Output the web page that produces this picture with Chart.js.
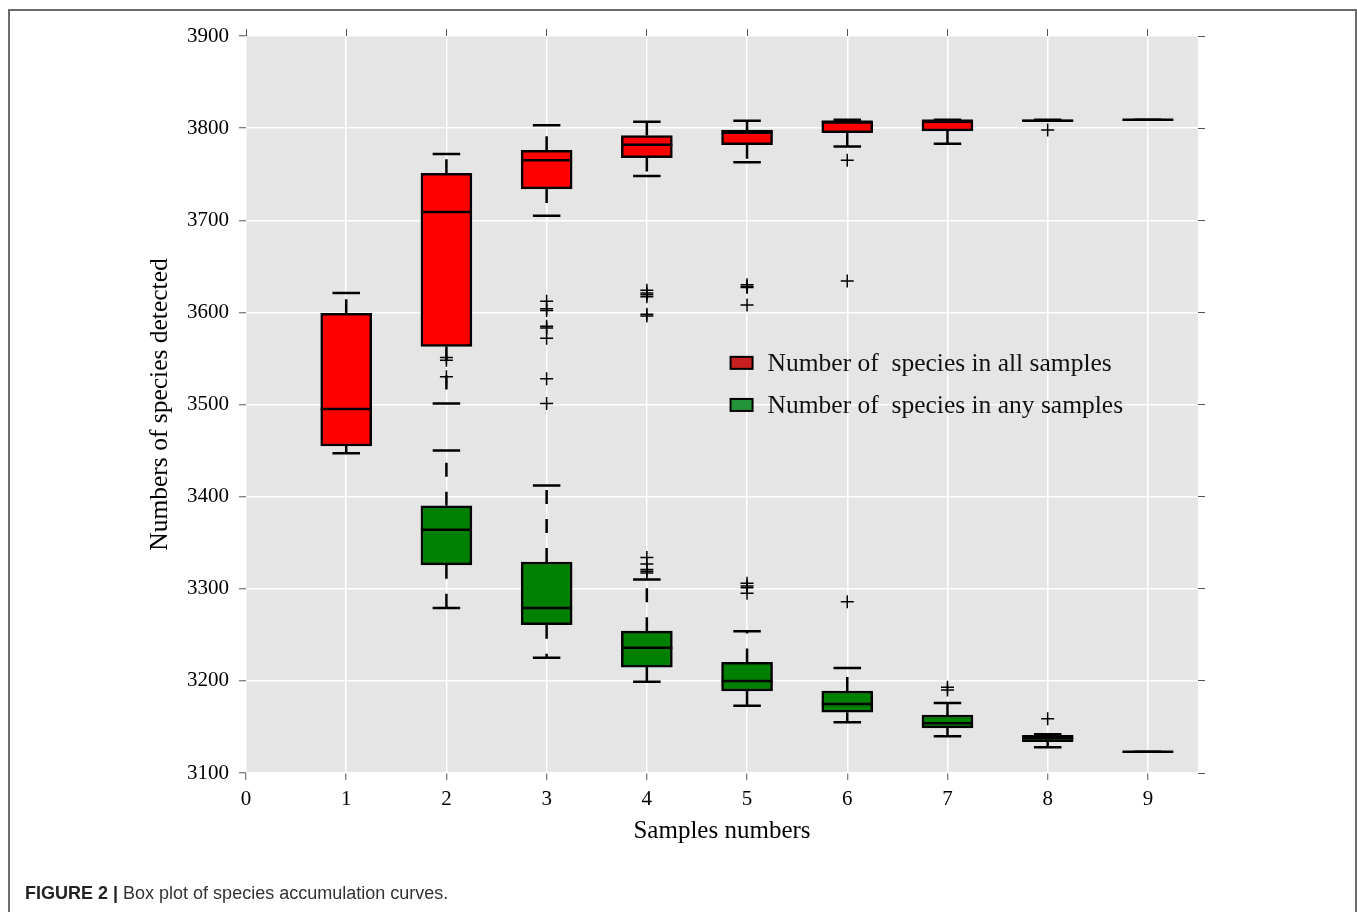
<!DOCTYPE html>
<html lang="en">
<head>
<meta charset="UTF-8">
<title>Box plot of species accumulation curves</title>
<script src="https://cdn.jsdelivr.net/npm/chart.js"></script>
<style>
  html, body { margin: 0; padding: 0; background: #fff; }
  body { width: 1357px; height: 912px; position: relative; overflow: hidden; }
  .frame { position: absolute; left: 8px; top: 9px; width: 1345px; height: 920px;
           border: 2px solid #6b6b6b; border-bottom: none; }
  #chart { position: absolute; left: 0; top: 0; }
  .caption { position: absolute; left: 25px; top: 884px; font-family: "Liberation Sans", Arial, sans-serif;
             font-size: 18px; line-height: 18px; color: #333; white-space: nowrap; }
  .caption b { color: #222; }
</style>
</head>
<body>
<div class="frame"></div>
<canvas id="chart" width="1357" height="912"></canvas>
<div class="caption"><b>FIGURE 2 |</b> Box plot of species accumulation curves.</div>

<script>
// number of samples on the x axis
const allSamples = [1, 2, 3, 4, 5, 6, 7, 8, 9];
const anySamples = [2, 3, 4, 5, 6, 7, 8, 9];
const xTicks = [0, 1, 2, 3, 4, 5, 6, 7, 8, 9];
const yTicks = [3100, 3200, 3300, 3400, 3500, 3600, 3700, 3800, 3900];

// species in all samples (red)
const allLow  = [3447, 3501, 3705, 3748, 3763, 3780, 3783, 3808, 3809];
const allQ1   = [3455, 3563, 3734, 3768, 3782, 3795, 3797, 3808, 3809];
const allMed  = [3495, 3709, 3765, 3782, 3795, 3807, 3808, 3808, 3809];
const allQ3   = [3599, 3751, 3776, 3792, 3798, 3807, 3808, 3809, 3809];
const allHigh = [3621, 3772, 3803, 3807, 3808, 3809, 3809, 3809, 3809];
const allFliers = [
  [],
  [3551, 3548, 3530],
  [3612, 3604, 3602, 3585, 3583, 3572, 3528, 3501],
  [3624, 3621, 3619, 3617, 3598, 3596],
  [3630, 3628, 3627, 3608],
  [3765, 3634],
  [],
  [3798],
  []
];

// species in any samples (green)
const anyLow  = [3279, 3225, 3199, 3173, 3155, 3140, 3128, 3123];
const anyQ1   = [3326, 3261, 3215, 3189, 3166, 3149, 3134, 3123];
const anyMed  = [3364, 3279, 3236, 3200, 3175, 3154, 3138, 3123];
const anyQ3   = [3390, 3329, 3254, 3220, 3189, 3163, 3141, 3123];
const anyHigh = [3450, 3412, 3310, 3254, 3214, 3176, 3142, 3123];
const anyFliers = [
  [],
  [],
  [3334, 3327, 3321, 3319, 3317],
  [3306, 3303, 3301, 3295],
  [3286],
  [3193, 3190],
  [3159],
  []
];

const allLabel = 'Number of  species in all samples';
const anyLabel = 'Number of  species in any samples';

const serif = '"Liberation Serif", "Times New Roman", serif';

function flierPoints(xs, fl) {
  const pts = [];
  xs.forEach((x, i) => fl[i].forEach(v => pts.push({ x: x, y: v })));
  return pts;
}

// gray panel, whiskers, caps, medians and the legend
const boxPlugin = {
  id: 'boxParts',
  beforeDraw(chart) {
    const { ctx, chartArea: a } = chart;
    ctx.save();
    ctx.fillStyle = '#e5e5e5';
    ctx.fillRect(a.left, a.top, a.right - a.left, a.bottom - a.top);
    ctx.restore();
  },
  beforeDatasetsDraw(chart) {
    const ctx = chart.ctx;
    const y = chart.scales.y;
    const sets = [
      [0, allLow, allQ1, allQ3, allHigh],
      [1, anyLow, anyQ1, anyQ3, anyHigh]
    ];
    ctx.save();
    ctx.strokeStyle = '#000';
    ctx.lineWidth = 2.5;
    ctx.lineCap = 'butt';
    sets.forEach(([idx, lo, q1, q3, hi]) => {
      chart.getDatasetMeta(idx).data.forEach((bar, i) => {
        const x = bar.x;
        const capHalf = bar.width * 0.27;
        // whiskers, dashed from the box outwards
        ctx.setLineDash([14, 15]);
        ctx.beginPath();
        ctx.moveTo(x, y.getPixelForValue(q3[i]));
        ctx.lineTo(x, y.getPixelForValue(hi[i]));
        ctx.moveTo(x, y.getPixelForValue(q1[i]));
        ctx.lineTo(x, y.getPixelForValue(lo[i]));
        ctx.stroke();
        // caps
        ctx.setLineDash([]);
        ctx.beginPath();
        [hi[i], lo[i]].forEach(v => {
          const py = y.getPixelForValue(v);
          ctx.moveTo(x - capHalf, py);
          ctx.lineTo(x + capHalf, py);
        });
        ctx.stroke();
      });
    });
    ctx.restore();
  },
  afterDatasetsDraw(chart) {
    const ctx = chart.ctx;
    const y = chart.scales.y;
    const a = chart.chartArea;
    ctx.save();
    ctx.strokeStyle = '#000';
    ctx.lineWidth = 2.5;
    [[0, allMed], [1, anyMed]].forEach(([idx, med]) => {
      chart.getDatasetMeta(idx).data.forEach((bar, i) => {
        const py = y.getPixelForValue(med[i]);
        ctx.beginPath();
        ctx.moveTo(bar.x - bar.width / 2, py);
        ctx.lineTo(bar.x + bar.width / 2, py);
        ctx.stroke();
      });
    });

    // legend inside the panel
    const lx = a.left + (a.right - a.left) * 0.509;
    const rows = [
      [allLabel, '#c8201f', a.top + (a.bottom - a.top) * 0.4435],
      [anyLabel, '#23943a', a.top + (a.bottom - a.top) * 0.5006]
    ];
    ctx.font = '25.5px ' + serif;
    ctx.textBaseline = 'middle';
    ctx.textAlign = 'left';
    ctx.lineWidth = 2;
    rows.forEach(([text, color, ry]) => {
      ctx.fillStyle = color;
      ctx.fillRect(lx, ry - 6, 22, 12);
      ctx.strokeRect(lx, ry - 6, 22, 12);
      ctx.fillStyle = '#111';
      ctx.fillText(text, lx + 37, ry + 1);
    });
    ctx.restore();
  }
};

const tickFont = { family: serif, size: 21 };
const plain = v => String(v);

new Chart(document.getElementById('chart'), {
  type: 'scatter',
  data: {
    datasets: [
      {
        type: 'bar', label: allLabel, xAxisID: 'x', yAxisID: 'y',
        data: allSamples.map((s, i) => ({ x: s, y: [allQ1[i], allQ3[i]] })),
        backgroundColor: '#ff0000', borderColor: '#000', borderWidth: 2.5,
        borderSkipped: false, barThickness: 51, grouped: false, order: 3
      },
      {
        type: 'bar', label: anyLabel, xAxisID: 'x', yAxisID: 'y',
        data: anySamples.map((s, i) => ({ x: s, y: [anyQ1[i], anyQ3[i]] })),
        backgroundColor: '#008000', borderColor: '#000', borderWidth: 2.5,
        borderSkipped: false, barThickness: 51, grouped: false, order: 3
      },
      {
        label: 'all fliers', xAxisID: 'x', yAxisID: 'y',
        data: flierPoints(allSamples, allFliers),
        pointStyle: 'cross', radius: 6.5, borderColor: '#000', borderWidth: 1.5, order: 1
      },
      {
        label: 'any fliers', xAxisID: 'x', yAxisID: 'y',
        data: flierPoints(anySamples, anyFliers),
        pointStyle: 'cross', radius: 6.5, borderColor: '#000', borderWidth: 1.5, order: 1
      }
    ]
  },
  options: {
    responsive: false,
    animation: false,
    events: [],
    layout: { padding: 0 },
    plugins: { legend: { display: false }, tooltip: { enabled: false } },
    scales: {
      x: {
        type: 'linear', position: 'bottom', min: 0, max: 9.5, offset: false,
        afterFit(s) { s.height = 912 - 773; },
        afterBuildTicks(s) { s.ticks = xTicks.map(v => ({ value: v })); },
        ticks: { padding: 7, maxRotation: 0, autoSkip: false, color: '#000', font: tickFont, callback: plain },
        grid: { color: '#ffffff', lineWidth: 1.5, drawTicks: true, tickLength: 7, tickColor: '#555', tickWidth: 1, offset: false },
        border: { display: false },
        title: { display: true, text: 'Samples numbers', color: '#000',
                 font: { family: serif, size: 25 }, padding: { top: 0, bottom: 66 } }
      },
      y: {
        type: 'linear', position: 'left', min: 3100, max: 3900,
        afterFit(s) { s.width = 246; },
        afterBuildTicks(s) { s.ticks = yTicks.map(v => ({ value: v })); },
        ticks: { padding: 10, color: '#000', font: tickFont, callback: plain },
        grid: { color: '#ffffff', lineWidth: 1.5, drawTicks: true, tickLength: 7, tickColor: '#555', tickWidth: 1 },
        border: { display: false },
        title: { display: true, text: 'Numbers of species detected', color: '#000',
                 font: { family: serif, size: 25.5 }, padding: { top: 145, bottom: 0 } }
      },
      x2: {
        type: 'linear', position: 'top', min: 0, max: 9.5,
        afterFit(s) { s.height = 36; },
        afterBuildTicks(s) { s.ticks = xTicks.map(v => ({ value: v })); },
        ticks: { display: false },
        grid: { drawOnChartArea: false, drawTicks: true, tickLength: 7, tickColor: '#555', tickWidth: 1 },
        border: { display: false }
      },
      y2: {
        type: 'linear', position: 'right', min: 3100, max: 3900,
        afterFit(s) { s.width = 1357 - 1198; },
        afterBuildTicks(s) { s.ticks = yTicks.map(v => ({ value: v })); },
        ticks: { display: false },
        grid: { drawOnChartArea: false, drawTicks: true, tickLength: 7, tickColor: '#555', tickWidth: 1 },
        border: { display: false }
      }
    }
  },
  plugins: [boxPlugin]
});
</script>
</body>
</html>
